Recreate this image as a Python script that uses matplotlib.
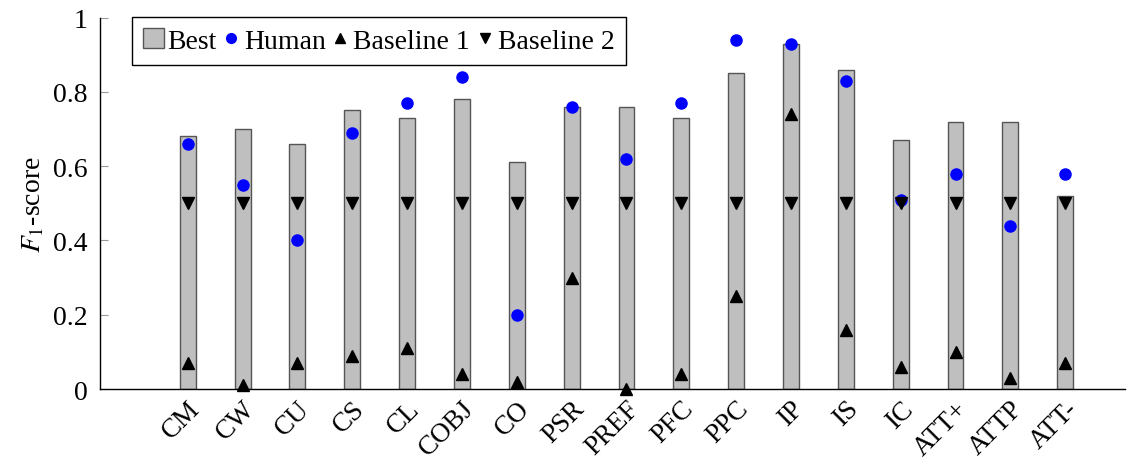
import numpy as np
import matplotlib
matplotlib.use('Agg')
import matplotlib.pyplot as plt

plt.rcParams['font.family'] = 'Liberation Serif'
plt.rcParams['mathtext.fontset'] = 'stix'

# Data
categories = ['CM', 'CW', 'CU', 'CS', 'CL', 'COBJ', 'CO', 'PSR', 'PREF', 'PFC',
              'PPC', 'IP', 'IS', 'IC', 'ATT+', 'ATTP', 'ATT-']
best = [0.68, 0.70, 0.66, 0.75, 0.73, 0.78, 0.61, 0.76, 0.76, 0.73,
        0.85, 0.93, 0.86, 0.67, 0.72, 0.72, 0.52]
human = [0.66, 0.55, 0.40, 0.69, 0.77, 0.84, 0.20, 0.76, 0.62, 0.77,
         0.94, 0.93, 0.83, 0.51, 0.58, 0.44, 0.58]
baseline1 = [0.07, 0.01, 0.07, 0.09, 0.11, 0.04, 0.02, 0.30, 0.00, 0.04,
             0.25, 0.74, 0.16, 0.06, 0.10, 0.03, 0.07]
baseline2 = [0.50] * 17

x = np.arange(len(categories))
fs = 20

fig = plt.figure(figsize=(11.47, 4.64), dpi=100)
ax = fig.add_axes([100 / 1147, 1 - 390 / 464, 1025 / 1147, 371.5 / 464])

bars = ax.bar(x, best, width=0.29, color='#bfbfbf', edgecolor='#555555', linewidth=1.0,
              label='Best', zorder=2)
h_human, = ax.plot(x, human, 'o', color='#0000ff', markersize=8, label='Human', zorder=3,
                   clip_on=False)
h_b1, = ax.plot(x, baseline1, '^', color='black', markersize=9, label='Baseline 1', zorder=4,
                clip_on=False)
h_b2, = ax.plot(x, baseline2, 'v', color='black', markersize=9, label='Baseline 2', zorder=4,
                clip_on=False)

ax.set_xlim(-1.6, 17.09)
ax.set_ylim(0, 1)
ax.set_yticks([0, 0.2, 0.4, 0.6, 0.8, 1])
ax.set_yticklabels(['0', '0.2', '0.4', '0.6', '0.8', '1'])
ax.set_xticks(x)
ax.set_xticklabels(categories, rotation=45, ha='right', rotation_mode='anchor')
ax.tick_params(axis='y', direction='in', length=6, color='#999999', labelsize=fs, pad=9)
ax.tick_params(axis='x', length=0, labelsize=19.5, pad=5)
ax.spines['top'].set_visible(False)
ax.spines['right'].set_visible(False)
ax.spines['left'].set_linewidth(1.0)
ax.spines['bottom'].set_linewidth(1.0)
ax.set_ylabel('$F_1$-score', fontsize=fs, labelpad=5)

leg = ax.legend([bars, h_human, h_b1, h_b2], ['Best', 'Human', 'Baseline 1', 'Baseline 2'],
                loc='upper left', ncol=4, bbox_to_anchor=(132 / 1147, 1 - 18 / 464),
                bbox_transform=fig.transFigure, borderaxespad=0, fontsize=fs,
                fancybox=False, edgecolor='black', framealpha=1,
                handlelength=0.75, handletextpad=0.1, columnspacing=0.15,
                borderpad=0.4)
leg.get_frame().set_linewidth(1.0)
for h in leg.legend_handles[1:]:
    h.set_markersize(7)

fig.savefig('out.png', dpi=100)
